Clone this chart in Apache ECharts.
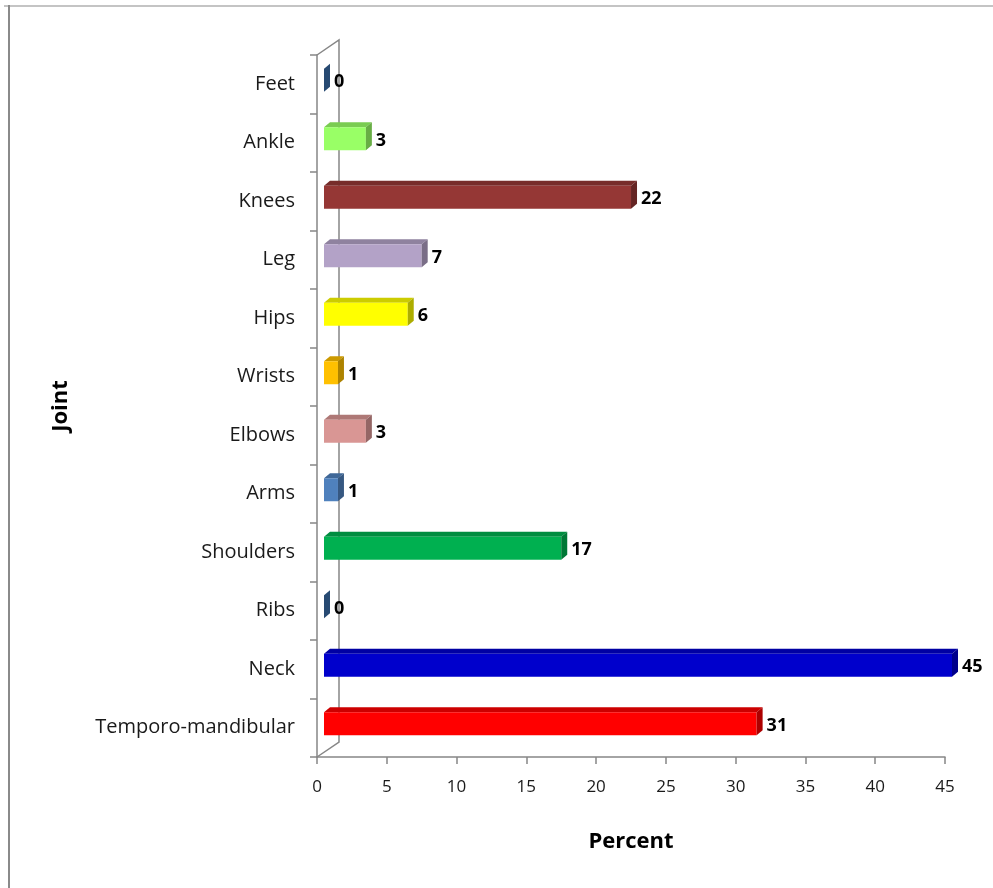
<!DOCTYPE html>
<html>
<head>
<meta charset="utf-8">
<script src="https://cdn.jsdelivr.net/npm/echarts@6/dist/echarts.min.js"></script>
<style>
  html, body { margin: 0; padding: 0; background: #fff; }
  #chart { width: 993px; height: 888px; }
</style>
</head>
<body>
<div id="chart"></div>
<script>
// bottom to top, as the category axis draws them
const categories = ["Temporo-mandibular", "Neck", "Ribs", "Shoulders", "Arms", "Elbows",
  "Wrists", "Hips", "Leg", "Knees", "Ankle", "Feet"];
const percents = [31, 45, 0, 17, 1, 3, 1, 6, 7, 22, 3, 0];
const barColors = ["#FF0000", "#0000CC", "#3A6DA8", "#00B050", "#4F81BD", "#D99694",
  "#FFC000", "#FFFF00", "#B3A2C7", "#953735", "#99FF66", "#3A6DA8"];
const percentTicks = [0, 45, 5]; // min, max, interval

const FONT = "'Open Sans', 'DejaVu Sans', sans-serif";
const AXIS_GREY = "#868686";
// depth offsets of the fake 3d look
const DX = 6, DY = 5;          // bar depth
const SHIFT_X = 7, SHIFT_Y = -4; // bars sit mid-depth
const WALL_X = 22, WALL_Y = 15;  // back wall offset

const chart = echarts.init(document.getElementById("chart"));

// echarts.color.lift only brightens, so darken by hand
function shade(c, k) {
  const rgb = echarts.color.parse(c);
  return "rgb(" + [0, 1, 2].map(i => Math.round(rgb[i] * k)).join(",") + ")";
}

function renderBar(params, api) {
  const idx = api.value(0);
  const val = api.value(1);
  const start = api.coord([0, idx]);
  const end = api.coord([val, idx]);
  const cy = start[1] + SHIFT_Y;
  const xl = start[0] + SHIFT_X;
  const xr = end[0] + SHIFT_X;
  const yt = cy - 11.5, yb = cy + 11.5;
  const base = barColors[idx];
  const topCol = shade(base, 0.8);
  const sideCol = shade(base, 0.68);
  const children = [
    {
      type: "polygon",
      shape: { points: [[xl, yt], [xr, yt], [xr + DX, yt - DY], [xl + DX, yt - DY]] },
      style: { fill: topCol }
    },
    {
      type: "rect",
      shape: { x: xl, y: yt, width: Math.max(xr - xl, 0), height: yb - yt },
      style: { fill: base }
    },
    {
      type: "polygon",
      shape: { points: [[xr, yt], [xr + DX, yt - DY], [xr + DX, yb - DY], [xr, yb]] },
      style: { fill: sideCol }
    },
    {
      type: "text",
      style: {
        x: xr + DX + 4, y: cy + 2,
        text: String(val),
        fill: "#000",
        font: "bold 18px " + FONT,
        align: "left", verticalAlign: "middle"
      }
    }
  ];
  return { type: "group", children: children };
}

function renderWall(params, api) {
  const cs = params.coordSys;
  const x0 = cs.x, yTop = cs.y, yBot = cs.y + cs.height;
  const st = { stroke: AXIS_GREY, lineWidth: 1.5, fill: null };
  return {
    type: "group",
    children: [
      { type: "polyline", shape: { points: [[x0, yBot], [x0 + WALL_X, yBot - WALL_Y], [x0 + WALL_X, yTop - WALL_Y], [x0, yTop]] }, style: st }
    ]
  };
}

chart.setOption({
  backgroundColor: "#fff",
  animation: false,
  graphic: [
    { type: "line", shape: { x1: 4, y1: 6, x2: 993, y2: 6 }, style: { stroke: "#c4c4c4", lineWidth: 2 } },
    { type: "line", shape: { x1: 9, y1: 5, x2: 9, y2: 888 }, style: { stroke: "#8a8a8a", lineWidth: 2 } }
  ],
  grid: { left: 317, right: 48, top: 55, bottom: 131 },
  xAxis: {
    type: "value",
    min: percentTicks[0],
    max: percentTicks[1],
    interval: percentTicks[2],
    name: "Percent",
    nameLocation: "middle",
    nameGap: 74,
    nameTextStyle: { fontFamily: FONT, fontSize: 22, fontWeight: "bold", color: "#000" },
    axisLine: { show: true, lineStyle: { color: AXIS_GREY, width: 1.5 } },
    axisTick: { show: true, length: 7, lineStyle: { color: AXIS_GREY, width: 1.5 } },
    axisLabel: { fontFamily: FONT, fontSize: 17, color: "#1a1a1a", margin: 22 },
    splitLine: { show: false }
  },
  yAxis: {
    type: "category",
    data: categories,
    name: "Joint",
    nameLocation: "middle",
    nameGap: 245,
    nameRotate: 90,
    nameTextStyle: { fontFamily: FONT, fontSize: 22, fontWeight: "bold", color: "#000" },
    axisLine: { show: true, lineStyle: { color: AXIS_GREY, width: 1.5 } },
    axisTick: { show: true, length: 7, lineStyle: { color: AXIS_GREY, width: 1.5 } },
    axisLabel: { fontFamily: FONT, fontSize: 20, color: "#1a1a1a", margin: 22, padding: [6, 0, 0, 0] },
    splitLine: { show: false }
  },
  series: [
    {
      type: "custom",
      renderItem: renderWall,
      data: [[0, 0]],
      z: 1,
      silent: true
    },
    {
      type: "custom",
      renderItem: renderBar,
      encode: { x: 1, y: 0 },
      data: percents.map((v, i) => [i, v]),
      z: 3
    }
  ]
});
</script>
</body>
</html>
